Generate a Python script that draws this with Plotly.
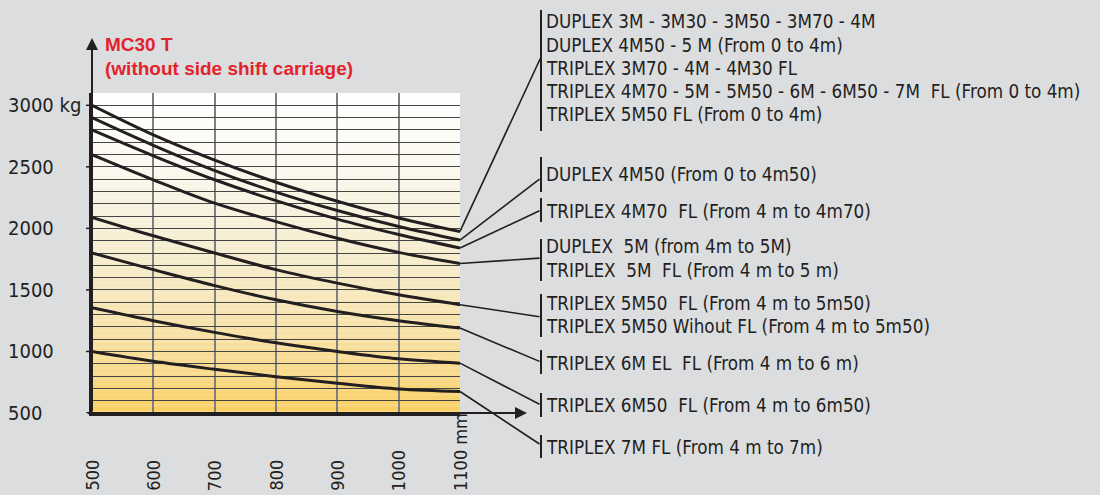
import plotly.graph_objects as go

# ---------------- data ----------------
OUTREACH_MM = [500, 600, 700, 800, 900, 1000, 1100]
X_TICK_LABELS = ["500", "600", "700", "800", "900", "1000", "1100 mm"]
Y_TICK_VALUES = [500, 1000, 1500, 2000, 2500, 3000]
Y_TICK_LABELS = ["500", "1000", "1500", "2000", "2500", "3000 kg"]

CAP_1 = [3000, 2760, 2555, 2375, 2220, 2085, 1975]
CAP_2 = [2900, 2675, 2470, 2295, 2145, 2015, 1905]
CAP_3 = [2800, 2590, 2395, 2225, 2075, 1950, 1840]
CAP_4 = [2600, 2395, 2205, 2055, 1920, 1805, 1715]
CAP_5 = [2090, 1940, 1800, 1665, 1555, 1460, 1380]
CAP_6 = [1800, 1665, 1535, 1420, 1325, 1250, 1190]
CAP_7 = [1355, 1250, 1155, 1070, 1000, 940, 905]
CAP_8 = [1000, 920, 855, 795, 742, 695, 675]

NBSP = "\u00a0"
LABELS_1 = ["DUPLEX 3M - 3M30 - 3M50 - 3M70 - 4M",
            "DUPLEX 4M50 - 5 M (From 0 to 4m)",
            "TRIPLEX 3M70 - 4M - 4M30 FL",
            "TRIPLEX 4M70 - 5M - 5M50 - 6M - 6M50 - 7M " + NBSP + "FL (From 0 to 4m)",
            "TRIPLEX 5M50 FL (From 0 to 4m)"]
LABELS_2 = ["DUPLEX 4M50 (From 0 to 4m50)"]
LABELS_3 = ["TRIPLEX 4M70 " + NBSP + "FL (From 4 m to 4m70)"]
LABELS_4 = ["DUPLEX " + NBSP + "5M (from 4m to 5M)",
            "TRIPLEX " + NBSP + "5M " + NBSP + "FL (From 4 m to 5 m)"]
LABELS_5 = ["TRIPLEX 5M50 " + NBSP + "FL (From 4 m to 5m50)",
            "TRIPLEX 5M50 Wihout FL (From 4 m to 5m50)"]
LABELS_6 = ["TRIPLEX 6M EL " + NBSP + "FL (From 4 m to 6 m)"]
LABELS_7 = ["TRIPLEX 6M50 " + NBSP + "FL (From 4 m to 6m50)"]
LABELS_8 = ["TRIPLEX 7M FL (From 4 m to 7m)"]

TITLE_1 = "MC30 T"
TITLE_2 = "(without side shift carriage)"

SERIES = [CAP_1, CAP_2, CAP_3, CAP_4, CAP_5, CAP_6, CAP_7, CAP_8]
GROUPS = [LABELS_1, LABELS_2, LABELS_3, LABELS_4, LABELS_5, LABELS_6, LABELS_7, LABELS_8]

# ---------------- styling / layout (pixels) ----------------
W, H = 1100, 495
PX_L, PX_R, PX_T, PX_B = 92, 460, 93, 413
X_RANGE = [500, 1100]
Y_RANGE = [500, 3100]

# per group: text line centers, bracket extent, leader target y
GROUP_LINE_Y = [[22, 45, 68, 92, 115], [174], [211], [246, 270], [303, 326], [363], [405], [447]]
GROUP_BRACKET = [(10, 131), (157, 192), (198, 222), (239, 281), (294, 337), (350, 374), (393, 417), (435, 458)]
GROUP_LEADER_Y = [57, 178, 210, 258, 317, 362, 405, 445]
BRACKET_X = 541
TEXT_X = 544

GRAD_KG = [500, 900, 1300, 1700, 2100, 2500, 2900, 3100]
GRAD_RGB = [(249, 207, 94), (248, 219, 144), (247, 228, 176), (246, 235, 201),
            (247, 241, 220), (250, 248, 238), (253, 253, 250), (255, 255, 255)]

INK = "#231F20"
RED = "#E3232C"
BG = "#DCDDDF"
COND_FONT = "DejaVu Sans Condensed, Liberation Sans Narrow, Arial Narrow, sans-serif"


def px(x):
    return x / W


def py(y):
    return 1 - y / H


def kg_to_py(v):
    return PX_T + (Y_RANGE[1] - v) * (PX_B - PX_T) / (Y_RANGE[1] - Y_RANGE[0])


def grad_color(v):
    for i in range(len(GRAD_KG) - 1):
        if GRAD_KG[i] <= v <= GRAD_KG[i + 1]:
            t = (v - GRAD_KG[i]) / (GRAD_KG[i + 1] - GRAD_KG[i])
            a, b = GRAD_RGB[i], GRAD_RGB[i + 1]
            c = [round(a[k] + (b[k] - a[k]) * t) for k in range(3)]
            return "rgb(%d,%d,%d)" % tuple(c)
    return "rgb(255,255,255)"


fig = go.Figure()

for s in SERIES:
    fig.add_trace(go.Scatter(x=OUTREACH_MM, y=s, mode="lines",
                             line=dict(color=INK, width=3, shape="spline", smoothing=1.0),
                             hoverinfo="skip", showlegend=False))

shapes = []
# gradient background bands
step = 10
v = Y_RANGE[0]
while v < Y_RANGE[1]:
    shapes.append(dict(type="rect", xref="x", yref="y", x0=X_RANGE[0], x1=X_RANGE[1],
                       y0=v, y1=min(v + step + 2, Y_RANGE[1]), layer="below",
                       line=dict(width=0), fillcolor=grad_color(v + step / 2)))
    v += step

# brackets
for (b0, b1) in GROUP_BRACKET:
    shapes.append(dict(type="line", xref="paper", yref="paper",
                       x0=px(BRACKET_X), x1=px(BRACKET_X), y0=py(b0), y1=py(b1),
                       line=dict(color=INK, width=2)))

# short outside ticks at labeled values
for val in Y_TICK_VALUES:
    shapes.append(dict(type="line", xref="paper", yref="y", x0=px(86), x1=px(PX_L), y0=val, y1=val,
                       line=dict(color=INK, width=1.5)))

annotations = []
# leader lines from curve ends to brackets
for s, ty in zip(SERIES, GROUP_LEADER_Y):
    end_y = kg_to_py(s[-1])
    annotations.append(dict(x=OUTREACH_MM[-1], y=s[-1], xref="x", yref="y",
                            text="", showarrow=True, arrowhead=0, arrowwidth=1.6,
                            arrowcolor=INK, axref="pixel", ayref="pixel",
                            ax=BRACKET_X - PX_R, ay=ty - end_y, standoff=0, startstandoff=0))

# group texts
for lines, ys in zip(GROUPS, GROUP_LINE_Y):
    for t, yy in zip(lines, ys):
        annotations.append(dict(x=px(TEXT_X), y=py(yy), xref="paper", yref="paper",
                                text=t, showarrow=False, xanchor="left", yanchor="middle",
                                font=dict(family=COND_FONT, size=18.7, color=INK)))

# y tick labels (left-aligned)
for val, lab in zip(Y_TICK_VALUES, Y_TICK_LABELS):
    annotations.append(dict(x=px(6), y=val, xref="paper", yref="y", text=lab,
                            showarrow=False, xanchor="left", yanchor="middle",
                            font=dict(family=COND_FONT, size=20, color=INK)))

# x tick labels (rotated)
for val, lab in zip(OUTREACH_MM, X_TICK_LABELS):
    annotations.append(dict(x=val, y=py(493), xref="x", yref="paper", text=lab,
                            showarrow=False, textangle=-90, xanchor="center", yanchor="bottom",
                            font=dict(family=COND_FONT, size=18, color=INK)))

# axis arrows
annotations.append(dict(x=px(527), y=py(PX_B), xref="paper", yref="paper", text="",
                        showarrow=True, arrowhead=2, arrowsize=1.2, arrowwidth=2,
                        arrowcolor=INK, axref="pixel", ayref="pixel", ax=-(527 - 86), ay=0))
annotations.append(dict(x=px(PX_L), y=py(38), xref="paper", yref="paper", text="",
                        showarrow=True, arrowhead=2, arrowsize=1.2, arrowwidth=2,
                        arrowcolor=INK, axref="pixel", ayref="pixel", ax=0, ay=PX_B - 38))

# title
annotations.append(dict(x=px(103), y=py(44), xref="paper", yref="paper", text=TITLE_1,
                        showarrow=False, xanchor="left", yanchor="middle",
                        font=dict(family="Liberation Sans, Arial, sans-serif", size=19, color=RED, weight="bold")))
annotations.append(dict(x=px(103), y=py(68), xref="paper", yref="paper", text=TITLE_2,
                        showarrow=False, xanchor="left", yanchor="middle",
                        font=dict(family="Liberation Sans, Arial, sans-serif", size=19, color=RED, weight="bold")))

fig.update_layout(
    width=W, height=H, margin=dict(l=0, r=0, t=0, b=0),
    paper_bgcolor=BG, plot_bgcolor="#FFFFFF",
    shapes=shapes, annotations=annotations, showlegend=False,
    xaxis=dict(domain=[px(PX_L), px(PX_R)], range=X_RANGE, dtick=100, tick0=500,
               showgrid=True, gridcolor="#7f7f7f", gridwidth=2, showticklabels=False,
               zeroline=False, showline=True, linecolor=INK, linewidth=2.5, ticks=""),
    yaxis=dict(domain=[py(PX_B), py(PX_T)], range=Y_RANGE, dtick=100, tick0=500,
               showgrid=True, gridcolor="#454545", gridwidth=1.2, showticklabels=False,
               zeroline=False, showline=True, linecolor=INK, linewidth=2.5, ticks=""),
)

fig.write_html("out.html", config={"displayModeBar": False},
               post_script="document.body.style.margin='0px';document.body.style.background='%s';" % BG)
